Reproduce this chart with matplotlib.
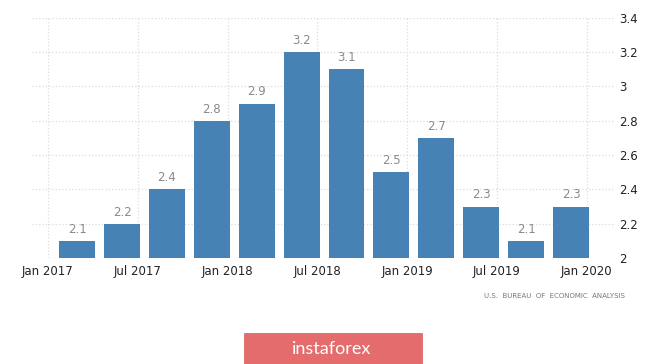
import matplotlib
matplotlib.use("Agg")
import matplotlib.pyplot as plt
from matplotlib.patches import FancyBboxPatch

# quarterly values, Q1 2017 .. Q4 2019
quarters = ["2017Q1", "2017Q2", "2017Q3", "2017Q4",
            "2018Q1", "2018Q2", "2018Q3", "2018Q4",
            "2019Q1", "2019Q2", "2019Q3", "2019Q4"]
values = [2.1, 2.2, 2.4, 2.8, 2.9, 3.2, 3.1, 2.5, 2.7, 2.3, 2.1, 2.3]

tick_labels = ["Jan 2017", "Jul 2017", "Jan 2018", "Jul 2018",
               "Jan 2019", "Jul 2019", "Jan 2020"]
y_ticks = [2, 2.2, 2.4, 2.6, 2.8, 3, 3.2, 3.4]

# x measured in months from Jan 2017
x = [3 * i + 1.95 for i in range(len(quarters))]
tick_pos = [6 * i for i in range(len(tick_labels))]

fig = plt.figure(figsize=(6.65, 3.64), dpi=100)
ax = fig.add_axes([0.048, 0.291, 0.877, 0.66])

bars = ax.bar(x, values, width=2.4, bottom=0, color="#4682b4", zorder=3)
for xi, v in zip(x, values):
    ax.text(xi, v + 0.03, f"{v:g}", ha="center", va="bottom",
            fontsize=8.5, color="#8a8a8a")

ax.set_xlim(-1.07, 37.9)
ax.set_ylim(2, 3.4)
ax.set_xticks(tick_pos)
ax.set_xticklabels(tick_labels, fontsize=8.5, color="#222222")
ax.set_yticks(y_ticks)
ax.set_yticklabels([f"{t:g}" for t in y_ticks], fontsize=8.5, color="#222222")
ax.yaxis.tick_right()
ax.tick_params(length=0, pad=3)
ax.tick_params(axis="x", pad=5)
for s in ax.spines.values():
    s.set_visible(False)
ax.grid(True, color="#dcdcdc", linestyle=":", linewidth=0.9, zorder=0)

fig.text(0.94, 0.187, "U.S.  BUREAU  OF  ECONOMIC  ANALYSIS", ha="right",
         va="center", fontsize=5, color="#777777")

logo = FancyBboxPatch((244 / 665, 0.0), (422 - 244) / 665, (364 - 333) / 364,
                      boxstyle="square,pad=0", transform=fig.transFigure,
                      facecolor="#e46c6c", edgecolor="#d95c5c", linewidth=0.5,
                      zorder=1)
fig.patches.append(logo)
fig.text(332 / 665, 1 - 349 / 364, "instaforex", ha="center", va="center",
         fontsize=13, color="white", family=["Lato", "DejaVu Sans"],
         zorder=5)

fig.savefig("out.png", dpi=100)
